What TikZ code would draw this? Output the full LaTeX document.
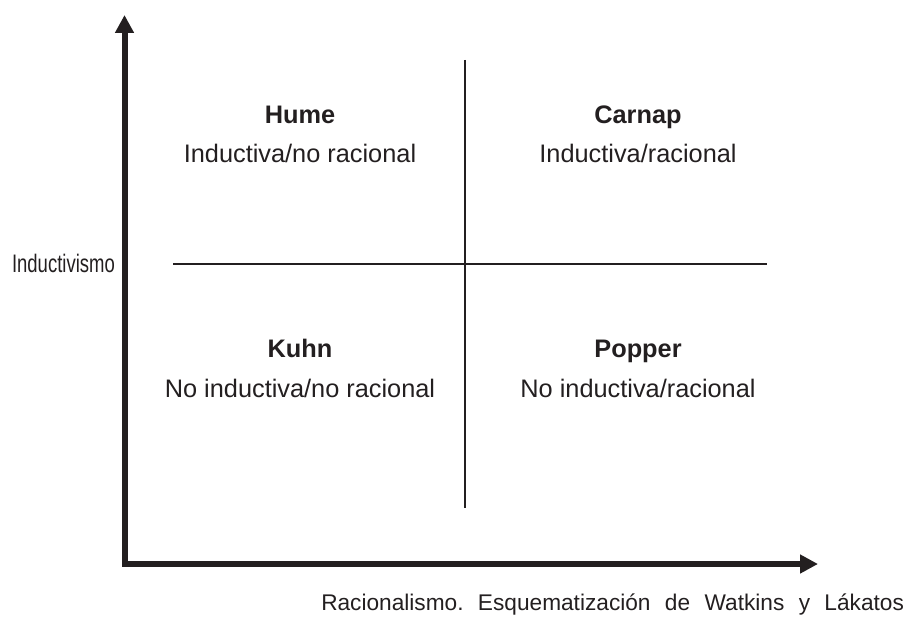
\documentclass[tikz,border=0pt]{standalone}
\usepackage{fontspec}
\setmainfont{Liberation Sans}
\usetikzlibrary{arrows.meta}
\definecolor{tinta}{HTML}{231F20}

\tikzset{
    autor/.style={anchor=base, text=tinta, inner sep=0pt, font=\fontsize{19}{23}\selectfont\bfseries},
    tipo/.style={anchor=base, text=tinta, inner sep=0pt, font=\fontsize{19}{23}\selectfont},
    ejes/.style={tinta, line width=4.5pt, line join=miter, >={Triangle[width=13.5pt, length=13.5pt]}, <->}
}

\begin{document}
\begin{tikzpicture}[x=0.75pt, y=-0.75pt]
    \useasboundingbox (0,0) rectangle (919,617);
    % Origin Point and ends of the axes
    \coordinate (O) at (124.5,564);
    \coordinate (Ytop) at (124.5,15);
    \coordinate (Xend) at (818,564);
    % Axes
    \draw[ejes] (Ytop) -- (O) -- (Xend);

    % Cross dividing the quadrants
    \coordinate (Vtop) at (465,60);
    \coordinate (Vbot) at (465,508);
    \coordinate (Hleft) at (173,264);
    \coordinate (Hright) at (767,264);
    \draw[tinta, line width=1.5pt] (Vtop) -- (Vbot);
    \draw[tinta, line width=1.5pt] (Hleft) -- (Hright);

    % Quadrants
    \node[autor] (hume) at (300,123) {Hume};
    \node[tipo] (humetipo) at (300,162) {Inductiva/no racional};
    \node[autor] (carnap) at (638,123) {Carnap};
    \node[tipo] (carnaptipo) at (638,162) {Inductiva/racional};
    \node[autor] (kuhn) at (300,357) {Kuhn};
    \node[tipo] (kuhntipo) at (300,397) {No inductiva/no racional};
    \node[autor] (popper) at (638,357) {Popper};
    \node[tipo] (poppertipo) at (638,397) {No inductiva/racional};

    % Axis labels
    \node[tipo, anchor=base east, xscale=0.73, font=\fontsize{19}{23}\selectfont] (ejey) at (115,272) {Inductivismo};
    \node[tipo, anchor=base west, font=\fontsize{17}{20}\selectfont\frenchspacing] (ejex) at (321,610)
        {\makebox[437pt][s]{Racionalismo. Esquematización de Watkins y Lákatos}};
\end{tikzpicture}
\end{document}
